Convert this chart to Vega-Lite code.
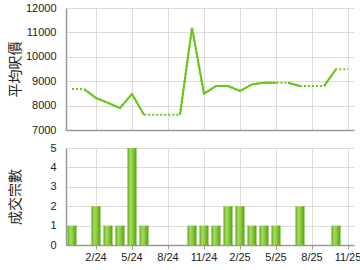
{
  "$schema": "https://vega.github.io/schema/vega-lite/v6.json",
  "padding": {"left": 8, "top": 2, "right": 0, "bottom": 0},
  "background": "white",
  "bounds": "flush",
  "spacing": 18,
  "data": {"values": [
    {"m": "12/23", "price": 8680, "count": 1, "run": null},
    {"m": "1/24", "price": 8680, "count": 0, "run": "A"},
    {"m": "2/24", "price": 8310, "count": 2, "run": "A"},
    {"m": "3/24", "price": 8110, "count": 1, "run": "A"},
    {"m": "4/24", "price": 7900, "count": 1, "run": "A"},
    {"m": "5/24", "price": 8480, "count": 5, "run": "A"},
    {"m": "6/24", "price": 7620, "count": 1, "run": "A"},
    {"m": "7/24", "price": 7620, "count": 0, "run": null},
    {"m": "8/24", "price": 7620, "count": 0, "run": null},
    {"m": "9/24", "price": 7620, "count": 0, "run": "B"},
    {"m": "10/24", "price": 11190, "count": 1, "run": "B"},
    {"m": "11/24", "price": 8490, "count": 1, "run": "B"},
    {"m": "12/24", "price": 8800, "count": 1, "run": "B"},
    {"m": "1/25", "price": 8800, "count": 2, "run": "B"},
    {"m": "2/25", "price": 8600, "count": 2, "run": "B"},
    {"m": "3/25", "price": 8870, "count": 1, "run": "B"},
    {"m": "4/25", "price": 8940, "count": 1, "run": "B"},
    {"m": "5/25", "price": 8940, "count": 1, "run": "B"},
    {"m": "6/25", "price": 8940, "count": 0, "run": "C"},
    {"m": "7/25", "price": 8800, "count": 2, "run": "C"},
    {"m": "8/25", "price": 8800, "count": 0, "run": null},
    {"m": "9/25", "price": 8800, "count": 0, "run": "D"},
    {"m": "10/25", "price": 9490, "count": 1, "run": "D"},
    {"m": "11/25", "price": 9490, "count": 0, "run": null}
  ]},
  "vconcat": [
    {
      "width": 288,
      "height": 122,
      "layer": [
        {
          "mark": {"type": "line", "color": "#66c814", "strokeWidth": 2, "strokeDash": [2, 2], "strokeCap": "butt"},
          "encoding": {
            "x": {"field": "m", "type": "ordinal", "sort": null},
            "y": {"field": "price", "type": "quantitative"}
          }
        },
        {
          "transform": [{"filter": "datum.run != null"}],
          "mark": {"type": "line", "color": "#66c814", "strokeWidth": 2},
          "encoding": {
            "x": {"field": "m", "type": "ordinal", "sort": null},
            "y": {"field": "price", "type": "quantitative"},
            "detail": {"field": "run"}
          }
        }
      ],
      "encoding": {
        "x": {"field": "m", "type": "ordinal", "sort": null,
          "scale": {"type": "point", "padding": 0.5},
          "axis": {"title": null, "labels": false, "ticks": false, "grid": true,
            "values": ["2/24", "5/24", "8/24", "11/24", "2/25", "5/25", "8/25", "11/25"],
            "domainColor": "#999", "gridColor": "#dcdcdc"}},
        "y": {"field": "price", "type": "quantitative",
          "scale": {"domain": [7000, 12000], "nice": false, "zero": false},
          "axis": {"title": "平均呎價", "values": [7000, 8000, 9000, 10000, 11000, 12000], "format": "d",
            "ticks": false, "labelPadding": 10, "minExtent": 41, "maxExtent": 41,
            "titlePadding": 3, "gridColor": "#dcdcdc", "domainColor": "#999"}}
      }
    },
    {
      "width": 288,
      "height": 97,
      "transform": [{"filter": "datum.count > 0"}],
      "mark": {"type": "bar",
        "color": {"gradient": "linear", "x1": 0, "x2": 1, "y1": 0, "y2": 0,
          "stops": [
            {"offset": 0, "color": "#5aa712"},
            {"offset": 0.3, "color": "#a6da66"},
            {"offset": 0.55, "color": "#8ccd3e"},
            {"offset": 1, "color": "#54a00e"}
          ]}},
      "encoding": {
        "x": {"field": "m", "type": "ordinal", "sort": ["12/23","1/24","2/24","3/24","4/24","5/24","6/24","7/24","8/24","9/24","10/24","11/24","12/24","1/25","2/25","3/25","4/25","5/25","6/25","7/25","8/25","9/25","10/25","11/25"],
          "scale": {"type": "band", "paddingInner": 0.25, "paddingOuter": 0.125,
            "domain": ["12/23","1/24","2/24","3/24","4/24","5/24","6/24","7/24","8/24","9/24","10/24","11/24","12/24","1/25","2/25","3/25","4/25","5/25","6/25","7/25","8/25","9/25","10/25","11/25"]},
          "axis": {"title": null, "labelAngle": 0, "bandPosition": 0.5, "grid": true,
            "values": ["2/24", "5/24", "8/24", "11/24", "2/25", "5/25", "8/25", "11/25"],
            "tickSize": 4, "tickColor": "#999", "labelPadding": 2,
            "domainColor": "#999", "gridColor": "#dcdcdc"}},
        "y": {"field": "count", "type": "quantitative",
          "scale": {"domain": [0, 5], "nice": false},
          "axis": {"title": "成交宗數", "values": [0, 1, 2, 3, 4, 5], "ticks": false,
            "labelPadding": 10, "minExtent": 41, "maxExtent": 41, "titlePadding": 3,
            "gridColor": "#dcdcdc", "domainColor": "#999"}}
      }
    }
  ],
  "config": {
    "view": {"stroke": null},
    "axis": {
      "labelFont": "Liberation Sans", "labelFontSize": 11, "labelColor": "#222",
      "titleFont": "Noto Sans CJK TC", "titleFontSize": 14, "titleFontWeight": "normal", "titleColor": "#222",
      "domainWidth": 1.5
    }
  }
}
